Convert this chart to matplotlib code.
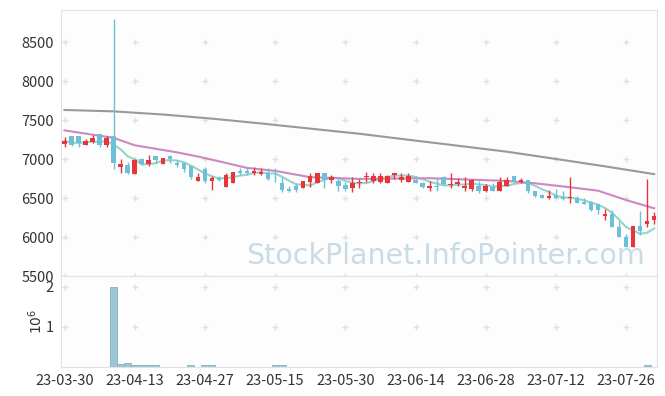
import numpy as np
import pandas as pd
import matplotlib
matplotlib.use("Agg")
import matplotlib.pyplot as plt

plt.rcParams["font.family"] = ["Noto Sans CJK KR", "DejaVu Sans"]

# daily candles, 23-03-30 .. 23-08-01 (trading days only)
opens = [7200, 7299, 7299, 7188, 7226, 7325, 7188, 7299, 6906, 6927,
         6812, 7004, 6944, 7043, 6944, 7043, 6957, 6957, 6919, 6726,
         6876, 6726, 6761, 6650, 6692, 6855, 6855, 6829, 6808, 6820,
         6855, 6692, 6620, 6662, 6628, 6705, 6692, 6825, 6735, 6722,
         6671, 6637, 6692, 6769, 6722, 6709, 6701, 6795, 6735, 6714,
         6735, 6701, 6637, 6662, 6769, 6667, 6679, 6637, 6620, 6658,
         6598, 6650, 6598, 6658, 6786, 6709, 6735, 6598, 6543, 6508,
         6546, 6520, 6498, 6503, 6459, 6455, 6425, 6277, 6295, 6130,
         6000, 5870, 6139, 6173, 6221]
highs = [7280, 7299, 7299, 7256, 7308, 7325, 7303, 8800, 7000, 6970,
         7009, 7021, 7056, 7043, 7013, 7060, 6991, 6957, 6919, 6820,
         6897, 6786, 6790, 6820, 6833, 6889, 6893, 6906, 6893, 6885,
         6885, 6769, 6662, 6692, 6722, 6829, 6825, 6825, 6799, 6769,
         6714, 6778, 6744, 6838, 6829, 6829, 6799, 6825, 6829, 6829,
         6786, 6714, 6722, 6765, 6786, 6820, 6756, 6778, 6744, 6722,
         6679, 6692, 6769, 6769, 6786, 6765, 6735, 6598, 6556, 6607,
         6620, 6598, 6771, 6524, 6503, 6468, 6425, 6360, 6347, 6208,
         6043, 6139, 6338, 6750, 6329]
lows = [7155, 7171, 7162, 7188, 7205, 7162, 7162, 6872, 6820, 6808,
        6808, 6932, 6915, 6957, 6936, 6949, 6906, 6842, 6744, 6726,
        6692, 6607, 6726, 6650, 6692, 6799, 6799, 6799, 6799, 6735,
        6714, 6578, 6578, 6578, 6628, 6650, 6692, 6628, 6692, 6590,
        6590, 6577, 6628, 6714, 6692, 6692, 6692, 6752, 6714, 6714,
        6692, 6637, 6590, 6590, 6671, 6628, 6658, 6594, 6594, 6573,
        6585, 6598, 6598, 6658, 6709, 6701, 6573, 6521, 6500, 6491,
        6498, 6481, 6446, 6438, 6425, 6338, 6295, 6217, 6134, 6000,
        5870, 5870, 6035, 6134, 6165]
closes = [7235, 7188, 7214, 7235, 7274, 7188, 7278, 6957, 6944, 6829,
          6991, 6944, 6991, 6991, 7013, 7000, 6932, 6876, 6778, 6774,
          6726, 6761, 6735, 6799, 6833, 6829, 6820, 6850, 6842, 6744,
          6838, 6607, 6598, 6607, 6722, 6786, 6825, 6735, 6778, 6662,
          6620, 6701, 6709, 6786, 6786, 6786, 6786, 6825, 6778, 6786,
          6692, 6650, 6662, 6650, 6679, 6684, 6709, 6658, 6735, 6594,
          6662, 6598, 6709, 6735, 6709, 6735, 6598, 6534, 6508, 6530,
          6498, 6490, 6511, 6446, 6433, 6351, 6347, 6303, 6134, 6000,
          5870, 6139, 6078, 6208, 6273]

# volume (shares), only a few days are visible at this scale
volumes = [8e3, 8e3, 8e3, 8e3, 8e3, 8e3, 8e3, 2.0e6, 7e4, 9e4,
           4e4, 4e4, 4e4, 4e4, 8e3, 8e3, 8e3, 8e3, 4e4, 8e3,
           4e4, 4e4, 8e3, 8e3, 8e3, 8e3, 8e3, 8e3, 8e3, 8e3,
           4e4, 4e4] + [8e3] * 51 + [4e4, 8e3]

# moving averages (index, value)
ma20_idx = [0, 7, 10, 13, 16, 19, 22, 26, 30, 35, 42, 52, 63, 67, 72, 76, 80, 84]
ma20_val = [7371, 7275, 7180, 7135, 7090, 7036, 6975, 6890, 6852, 6771,
            6749, 6758, 6723, 6693, 6642, 6598, 6478, 6372]
ma120_idx = [0, 7, 14, 21, 28, 35, 42, 49, 56, 63, 70, 77, 84]
ma120_val = [7633, 7615, 7575, 7522, 7460, 7394, 7328, 7251, 7175, 7098,
             7005, 6910, 6810]

tick_labels = ["23-03-30", "23-04-13", "23-04-27", "23-05-15", "23-05-30",
               "23-06-14", "23-06-28", "23-07-12", "23-07-26"]

up_col = "#e8353c"
down_col = "#6cc0da"
txt_col = "#333333"

o = np.array(opens); h = np.array(highs); l = np.array(lows); c = np.array(closes)
x = np.arange(len(o))
cols = [up_col if cc >= oo else down_col for oo, cc in zip(o, c)]

fig = plt.figure(figsize=(6.65, 3.96), dpi=100)
ax = fig.add_axes([61/665, (396-276.3)/396, 596/665, 266.3/396])
axv = fig.add_axes([61/665, (396-367)/396, 596/665, 90.7/396], sharex=ax)

# candles
ax.vlines(x, l, h, colors=cols, linewidth=1, zorder=3)
body_h = np.maximum(np.abs(c - o), 12)
ax.bar(x, body_h, bottom=np.minimum(o, c), width=0.65, color=cols, zorder=4)

# moving averages
ma5 = pd.Series(closes).rolling(5, min_periods=1).mean()
ax.plot(x, ma5, color="#8ccfc2", linewidth=1.5, alpha=0.9, zorder=2)
ax.plot(ma20_idx, ma20_val, color="#cc88c2", linewidth=1.5, zorder=2)
ax.plot(ma120_idx, ma120_val, color="#999999", linewidth=1.5, zorder=2)

ax.set_xlim(-0.5, 84.4)
ax.set_ylim(5500, 8915)
ax.set_yticks([5500, 6000, 6500, 7000, 7500, 8000, 8500])

# volume
axv.bar(x, volumes, width=1.0, color="#9cc6d4", edgecolor="#80b2c6", linewidth=0.6)
axv.set_ylim(0, 2.26e6)
axv.set_yticks([1e6, 2e6])
axv.set_yticklabels(["1", "2"])
axv.set_ylabel(r"$10^6$", color=txt_col, fontsize=10, labelpad=1)
xt = np.arange(0, len(o), 10)[:len(tick_labels)]
axv.set_xticks(xt)
axv.set_xticklabels(tick_labels)

for a in (ax, axv):
    a.set_facecolor("#fdfdfd")
    for s in a.spines.values():
        s.set_color("#e2e2e2")
    a.tick_params(length=0, labelsize=10.5, colors=txt_col, pad=5)
    # light "+" marks at the grid crossings
    yt = a.get_yticks()
    gx, gy = np.meshgrid(xt, yt)
    a.plot(gx.ravel(), gy.ravel(), "+", color="#e0e0e0", markersize=5, zorder=1)
ax.tick_params(labelbottom=False)

ax.text(0.98, 0.076, "StockPlanet.InfoPointer.com", transform=ax.transAxes,
        ha="right", va="center", fontsize=20.5, color="#c8dbe6", zorder=1,
        family="DejaVu Sans")

fig.savefig("out.png", dpi=100, facecolor="white")
